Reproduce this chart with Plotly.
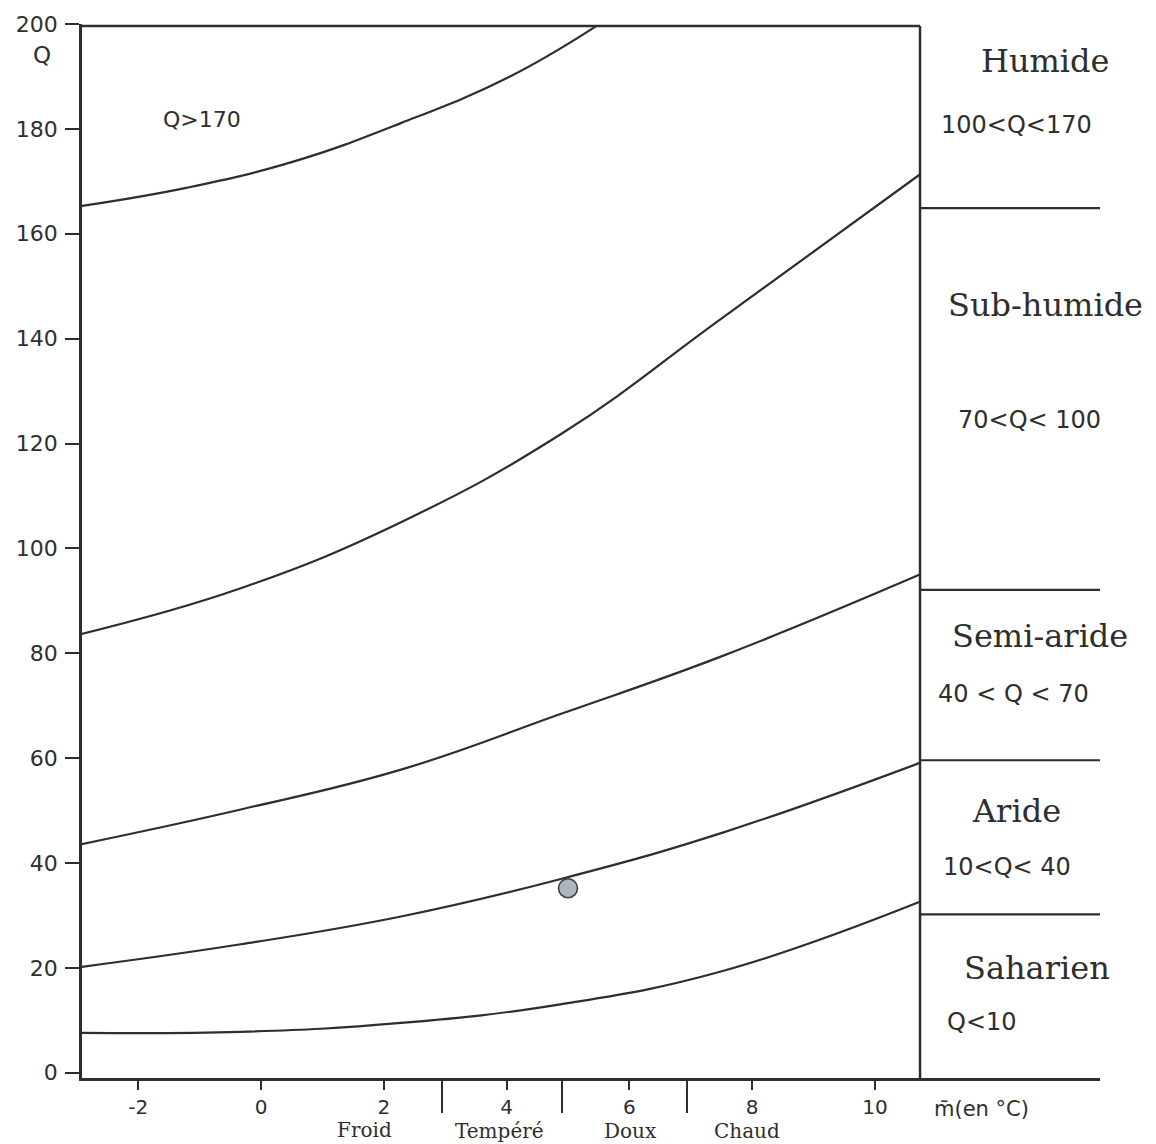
import plotly.graph_objects as go

# Emberger climagram: Q (pluviothermic quotient) versus m (mean minimum of the coldest month, °C)

# Stage boundary curves, sampled along m
m_pts = [-2.92, -0.33, 2.28, 4.90, 7.52, 10.73]
q_subhumide_humide = [83.7, 92.4, 105.0, 121.9, 144.0, 171.3]
q_semiaride_subhumide = [43.6, 50.2, 57.8, 68.5, 79.5, 95.0]
q_aride_semiaride = [20.2, 24.5, 29.8, 37.0, 45.8, 59.1]
q_saharien_aride = [7.6, 7.8, 9.5, 13.1, 19.4, 32.6]

# Upper boundary (per-humid), leaves the frame at Q = 200
m_top = [-2.92, -1.20, 0.54, 2.28, 4.04, 5.46]
q_perhumide_humide = [165.3, 168.8, 173.8, 181.1, 189.9, 199.6]

# Station
station_m = [5.0]
station_q = [35.2]

# Stage separators in the side legend column
legend_separators_q = [164.9, 92.1, 59.6, 30.2]

# Winter thermal variants along the m axis
thermal_bounds = [2.95, 4.90, 6.94]
thermal_labels = ["Froid", "Tempéré", "Doux", "Chaud"]
thermal_label_m = [1.69, 3.89, 6.01, 7.92]
thermal_label_shift = [-52, -53, -53, -53]

# Stage names and ranges written in the side column
stage_names = ["Humide", "Sub-humide", "Semi-aride", "Aride", "Saharien"]
stage_name_pos = [(12.78, 193.0), (12.78, 146.4), (12.69, 83.2), (12.30, 50.0), (12.64, 20.0)]
stage_ranges = ["100<Q<170", "70<Q< 100", "40 < Q < 70", "10<Q< 40", "Q<10"]
stage_range_pos = [(12.31, 180.8), (12.52, 124.5), (12.25, 72.3), (12.15, 39.2), (11.74, 9.6)]

x_ticks = [-2, 0, 2, 4, 6, 8, 10]
y_ticks = list(range(0, 201, 20))

X_MIN, X_FRAME, X_MAX = -2.915, 10.733, 13.664
Y_MIN, Y_FRAME, Y_MAX = -1.0, 199.6, 200.0

INK = "#2e2e2e"
SANS = "DejaVu Sans"
SERIF = "DejaVu Serif"

fig = go.Figure()

curve_style = dict(color=INK, width=2.2, shape="spline", smoothing=1.2)
for qs in [q_subhumide_humide, q_semiaride_subhumide, q_aride_semiaride, q_saharien_aride]:
    fig.add_trace(go.Scatter(x=m_pts, y=qs, mode="lines", line=curve_style,
                             showlegend=False, hoverinfo="skip"))
fig.add_trace(go.Scatter(x=m_top, y=q_perhumide_humide, mode="lines", line=curve_style,
                         showlegend=False, hoverinfo="skip"))

fig.add_trace(go.Scatter(x=station_m, y=station_q, mode="markers",
                         marker=dict(size=19, color="#aeb6bd", line=dict(color="#3a3f44", width=1.6)),
                         showlegend=False, hoverinfo="skip"))

shapes = []
# frame: top edge and right edge of the diagram
shapes.append(dict(type="line", xref="x", yref="y", x0=X_MIN, x1=X_FRAME, y0=Y_FRAME, y1=Y_FRAME,
                   line=dict(color=INK, width=2.5)))
shapes.append(dict(type="line", xref="x", yref="y", x0=X_FRAME, x1=X_FRAME, y0=Y_MIN, y1=Y_FRAME,
                   line=dict(color=INK, width=2.5)))
for q in legend_separators_q:
    shapes.append(dict(type="line", xref="x", yref="y", x0=X_FRAME, x1=X_MAX, y0=q, y1=q,
                       line=dict(color=INK, width=2.2)))

annotations = []
annotations.append(dict(x=X_MIN, y=194.0, xref="x", yref="y", text="Q", showarrow=False,
                        xanchor="center", xshift=-40, font=dict(family=SANS, size=23, color=INK)))
annotations.append(dict(x=-0.96, y=181.7, xref="x", yref="y", text="Q>170", showarrow=False,
                        font=dict(family=SANS, size=22, color=INK)))
annotations.append(dict(x=11.74, y=0, xref="x", yref="paper", text="m\u0304(en °C)", showarrow=False,
                        yanchor="middle", yshift=-31, font=dict(family=SANS, size=21, color=INK)))
for lab, xm, ys in zip(thermal_labels, thermal_label_m, thermal_label_shift):
    annotations.append(dict(x=xm, y=0, xref="x", yref="paper", text=lab, showarrow=False,
                            yanchor="middle", yshift=ys, font=dict(family=SERIF, size=20, color=INK)))
for lab, (xm, yq) in zip(stage_names, stage_name_pos):
    annotations.append(dict(x=xm, y=yq, xref="x", yref="y", text=lab, showarrow=False,
                            font=dict(family=SERIF, size=32, color=INK)))
for lab, (xm, yq) in zip(stage_ranges, stage_range_pos):
    annotations.append(dict(x=xm, y=yq, xref="x", yref="y", text=lab, showarrow=False,
                            font=dict(family=SANS, size=24, color=INK)))

fig.update_layout(
    width=1156, height=1144,
    margin=dict(l=82, r=56, t=13, b=66),
    paper_bgcolor="white", plot_bgcolor="white",
    shapes=shapes, annotations=annotations,
    xaxis=dict(range=[X_MIN, X_MAX], tickvals=x_ticks, ticktext=[str(v) for v in x_ticks],
               ticks="outside", ticklen=9, tickwidth=2, tickcolor=INK,
               showline=True, linewidth=2.5, linecolor=INK,
               showgrid=False, zeroline=False,
               tickfont=dict(family=SANS, size=20, color=INK),
               minor=dict(tickvals=thermal_bounds, ticks="outside", ticklen=32,
                          tickwidth=2, tickcolor=INK, showgrid=False)),
    yaxis=dict(range=[Y_MIN, Y_MAX], tickvals=y_ticks,
               ticks="outside", ticklen=14, tickwidth=2, tickcolor=INK,
               showline=True, linewidth=2.5, linecolor=INK,
               showgrid=False, zeroline=False, ticklabelstandoff=3,
               tickfont=dict(family=SANS, size=22, color=INK)),
)

fig.write_html("out.html")
